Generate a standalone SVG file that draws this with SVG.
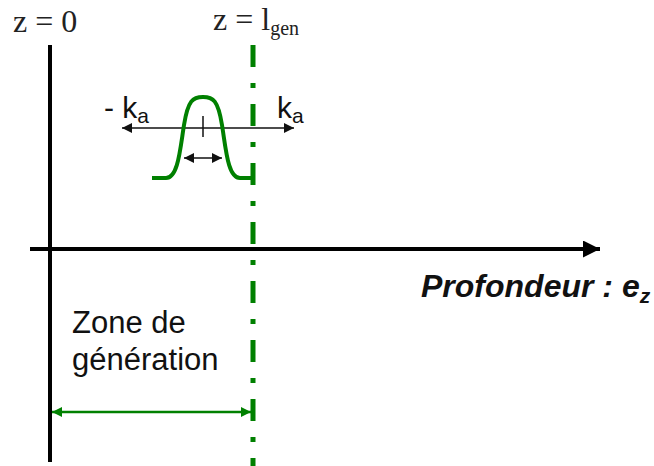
<svg xmlns="http://www.w3.org/2000/svg" width="654" height="466" viewBox="0 0 654 466">
<style>
.serif{font-family:"Liberation Serif","Times New Roman",serif;fill:#222}
.sans{font-family:"Liberation Sans",Arial,sans-serif;fill:#111}
.green{stroke:#008000;fill:none}
.thin{stroke:#111;stroke-width:1.5;fill:none}
</style>
<defs>
<marker id="ah" viewBox="0 0 10 10" refX="10" refY="5" markerWidth="10" markerHeight="10" markerUnits="userSpaceOnUse" orient="auto-start-reverse">
<path d="M0,0 L10,5 L0,10 Z" fill="#111"/>
</marker>
<marker id="big" viewBox="0 0 16 16" refX="16" refY="8" markerWidth="17" markerHeight="17" markerUnits="userSpaceOnUse" orient="auto">
<path d="M0,0 L16,8 L0,16 Z" fill="#000"/>
</marker>
<marker id="gh" viewBox="0 0 10 10" refX="10" refY="5" markerWidth="10" markerHeight="10" markerUnits="userSpaceOnUse" orient="auto-start-reverse">
<path d="M0,0 L10,5 L0,10 Z" fill="#008000"/>
</marker>
</defs>
<g id="connectors">
<line id="axis-z0" x1="50" y1="45" x2="50" y2="462" stroke="#000" stroke-width="4"/>
<line id="axis-depth" x1="30" y1="249" x2="600" y2="249" stroke="#000" stroke-width="4" marker-end="url(#big)"/>
<line id="lgen" x1="253" y1="45" x2="253" y2="466" class="green" stroke-width="5" stroke-dasharray="22 16 5 16"/>
<line id="k-arrow" x1="122" y1="128" x2="294" y2="128" class="thin" marker-start="url(#ah)" marker-end="url(#ah)"/>
<line id="tick" x1="203" y1="116" x2="203" y2="137" class="thin"/>
<line id="width-arrow" x1="184" y1="158" x2="222" y2="158" class="thin" marker-start="url(#ah)" marker-end="url(#ah)"/>
<line id="zone-arrow" x1="52" y1="412" x2="251" y2="412" class="green" stroke-width="2.5" marker-start="url(#gh)" marker-end="url(#gh)"/>
</g>
<g id="wavepacket">
<path class="green" stroke-width="4" d="M152,178 H166 C178,178 180,150 184,125 C188,100 193,97 203,97 C213,97 218,100 222,125 C226,150 228,178 240,178 H252"/>
</g>
<g id="label-z0"><text class="serif" x="13" y="32" font-size="32">z = 0</text></g>
<g id="label-zlgen"><text class="serif" x="213" y="30" font-size="32">z = l<tspan font-size="20" dy="5">gen</tspan></text></g>
<g id="label-minus-ka"><text class="sans" x="104" y="118" font-size="30">- k<tspan font-size="21" dy="5">a</tspan></text></g>
<g id="label-ka"><text class="sans" x="277" y="118" font-size="30">k<tspan font-size="21" dy="5">a</tspan></text></g>
<g id="label-depth"><text class="sans" x="421" y="297" font-size="32" font-weight="bold" font-style="italic">Profondeur : e<tspan font-size="21" dy="6">z</tspan></text></g>
<g id="label-zone"><text class="sans" x="72" y="333" font-size="31">Zone de</text><text class="sans" x="72" y="370" font-size="31">génération</text></g>
</svg>
